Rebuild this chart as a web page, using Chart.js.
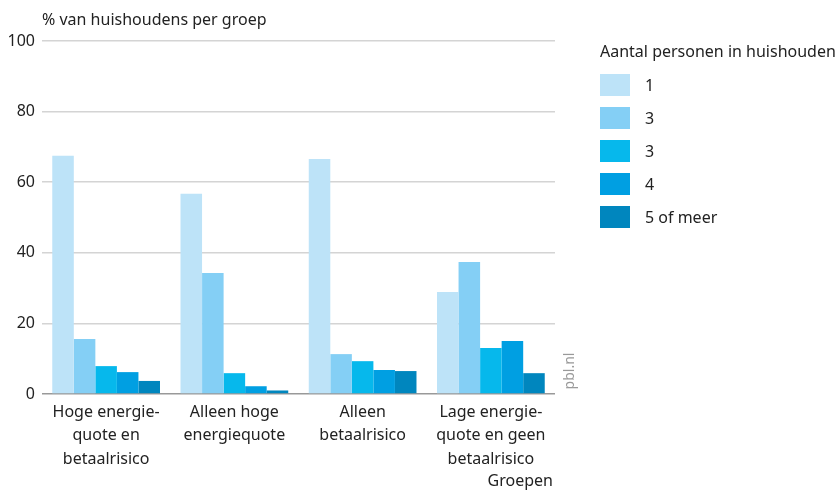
<!DOCTYPE html>
<html>
<head>
<meta charset="utf-8">
<script src="https://cdn.jsdelivr.net/npm/chart.js@4"></script>
<style>
  html, body { margin: 0; padding: 0; background: #fff; }
  #wrap { position: relative; width: 838px; height: 494px; font-family: 'Noto Sans', sans-serif; color: #222; }
  .txt { position: absolute; font-size: 16px; white-space: nowrap; }
  #legend { position: absolute; left: 600px; top: 40px; }
  #legend .title { font-size: 16px; margin-bottom: 6px; }
  #legend .item { display: flex; align-items: center; height: 33px; }
  #legend .box { width: 30px; height: 22px; margin-right: 15px; }
  #legend .lbl { font-size: 16px; }
</style>
</head>
<body>
<div id="wrap">
  <canvas id="chart" width="838" height="494"></canvas>
  <div class="txt" style="left:42px; top:8px;">% van huishoudens per groep</div>
  <div class="txt" style="right:285px; top:469px;">Groepen</div>
  <div id="legend"></div>
</div>
<script>
// Groups on the x axis (multi-line labels)
const groups = [
    ['Hoge energie-', 'quote en', 'betaalrisico'],
    ['Alleen hoge', 'energiequote'],
    ['Alleen', 'betaalrisico'],
    ['Lage energie-', 'quote en geen', 'betaalrisico'],
];

// Household size series
const seriesLabels = ['1', '3', '3', '4', '5 of meer'];
const seriesColors = ['#bde3f8', '#84cff5', '#06b8ec', '#009fe2', '#0086be'];

const size1 = [67.5, 56.7, 66.6, 28.9];
const size2 = [15.6, 34.3, 11.3, 37.4];
const size3 = [7.9, 5.9, 9.3, 13.0];
const size4 = [6.2, 2.2, 6.8, 15.0];
const size5 = [3.7, 1.0, 6.5, 5.9];

const yTicks = [0, 20, 40, 60, 80, 100];

const seriesValues = [size1, size2, size3, size4, size5];

// HTML legend
const legend = document.getElementById('legend');
legend.insertAdjacentHTML('beforeend', '<div class="title">Aantal personen in huishouden</div>');
seriesLabels.forEach((label, i) => {
    legend.insertAdjacentHTML('beforeend',
        `<div class="item"><div class="box" style="background:${seriesColors[i]}"></div><span class="lbl">${label}</span></div>`);
});

// Vertical "pbl.nl" credit next to the plot
const creditPlugin = {
    id: 'credit',
    afterDraw(chart) {
        const { ctx, chartArea } = chart;
        ctx.save();
        ctx.translate(chartArea.right + 15, chartArea.bottom - 23);
        ctx.rotate(-Math.PI / 2);
        ctx.font = '14px "Noto Sans"';
        ctx.fillStyle = '#999';
        ctx.textAlign = 'center';
        ctx.textBaseline = 'middle';
        ctx.fillText('pbl.nl', 0, 0);
        ctx.restore();
    },
};

const font = { family: 'Noto Sans', size: 16, lineHeight: 1.45 };

new Chart(document.getElementById('chart').getContext('2d'), {
    type: 'bar',
    data: {
        labels: groups,
        datasets: seriesValues.map((values, i) => ({
            label: seriesLabels[i],
            data: values,
            backgroundColor: seriesColors[i],
            borderWidth: 0,
            barPercentage: 1,
            categoryPercentage: 0.84,
        })),
    },
    options: {
        responsive: false,
        animation: false,
        layout: { padding: { top: 41, right: 283, bottom: 0, left: 0 } },
        plugins: {
            legend: { display: false },
            tooltip: { enabled: false },
        },
        scales: {
            x: {
                afterFit: (scale) => { scale.height = 100; },
                grid: { display: false, drawTicks: false },
                border: { display: false },
                ticks: {
                    color: '#222',
                    font: font,
                    padding: 7,
                    maxRotation: 0,
                    autoSkip: false,
                },
            },
            y: {
                min: 0,
                max: 100,
                afterFit: (scale) => { scale.width = 42; },
                afterBuildTicks: (scale) => { scale.ticks = yTicks.map((v) => ({ value: v })); },
                grid: {
                    color: (ctx) => (ctx.tick && ctx.tick.value === 0 ? '#999' : '#d4d4d4'),
                    lineWidth: 1.5,
                    drawTicks: false,
                },
                border: { display: false },
                ticks: {
                    color: '#222',
                    font: { family: 'Noto Sans', size: 16 },
                    padding: 7,
                },
            },
        },
    },
    plugins: [creditPlugin],
});
</script>
</body>
</html>
